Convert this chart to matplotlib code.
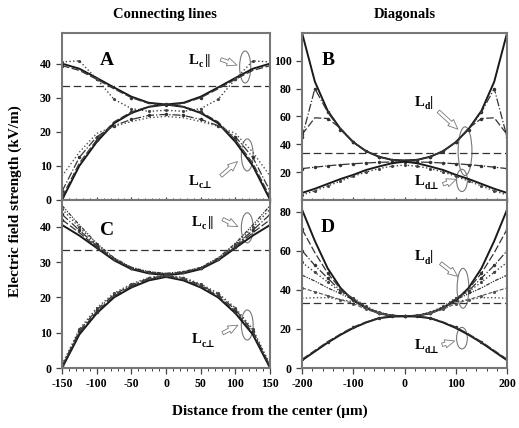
import numpy as np
import matplotlib.pyplot as plt
from matplotlib.patches import Ellipse
from matplotlib.ticker import MultipleLocator

plt.rcParams['font.family'] = ['Liberation Serif', 'DejaVu Serif']
plt.rcParams['font.weight'] = 'bold'
plt.rcParams['mathtext.fontset'] = 'stix'

# ---- data ----
# connecting lines (A, C): distance in um
xc = [-150, -125, -100, -75, -50, -25, 0, 25, 50, 75, 100, 125, 150]
# diagonals (B, D)
xd = [-200, -175, -150, -125, -100, -75, -50, -25, 0, 25, 50, 75, 100, 125, 150, 175, 200]

# panel A
a_par_solid = [40, 38.5, 35.8, 33, 30.3, 28.5, 28, 28.5, 30.3, 33, 35.8, 38.5, 40]
a_par_dash = [39.4, 38, 35.4, 32.6, 30, 28.3, 27.8, 28.3, 30, 32.6, 35.4, 38, 39.4]
a_par_dot = [40.5, 40.8, 35.5, 29.5, 26.8, 26, 26.3, 26, 26.8, 29.5, 35.5, 40.8, 40.5]
a_perp_solid = [0, 10, 17, 22.5, 25.5, 27.3, 28, 27.3, 25.5, 22.5, 17, 10, 0]
a_perp_dash = [0.8, 10.8, 17.6, 22.9, 25.8, 27.4, 28, 27.4, 25.8, 22.9, 17.6, 10.8, 0.8]
a_perp_dashdot = [2.5, 12.5, 18.5, 21.8, 23.6, 24.8, 25.1, 24.8, 23.6, 21.8, 18.5, 12.5, 2.5]
a_perp_dot = [7, 14, 19.5, 21.6, 23, 24.1, 24.5, 24.1, 23, 21.6, 19.5, 14, 7]

# panel B
b_par_solid = [120, 85, 64, 51, 41.5, 35, 31, 28.8, 28.3, 28.8, 31, 35, 41.5, 51, 64, 85, 120]
b_par_dashdot = [45, 80, 63, 50.5, 41.5, 35, 31, 28.8, 28.3, 28.8, 31, 35, 41.5, 50.5, 63, 80, 45]
b_par_dash = [47, 59, 58.5, 51.5, 41.5, 35, 31, 28.8, 28.3, 28.8, 31, 35, 41.5, 51.5, 58.5, 59, 47]
b_perp_dashdot = [22.5, 23.5, 24.5, 25.3, 26, 26.5, 27, 27.2, 27.3, 27.2, 27, 26.5, 26, 25.3, 24.5, 23.5, 22.5]
b_perp_solid = [5, 8, 11.5, 15, 18, 21.5, 24, 26.3, 27.5, 26.3, 24, 21.5, 18, 15, 11.5, 8, 5]
b_perp_dot = [3.5, 6.5, 10, 13.5, 17, 20, 22.5, 24.2, 25, 24.2, 22.5, 20, 17, 13.5, 10, 6.5, 3.5]

# panel C
c_par = [
    [40.5, 37.5, 34, 30.5, 28, 26.8, 26.3, 26.8, 28, 30.5, 34, 37.5, 40.5],
    [42, 38.3, 34.3, 30.7, 28.2, 27, 26.5, 27, 28.2, 30.7, 34.3, 38.3, 42],
    [43.5, 39, 34.6, 30.9, 28.3, 27.1, 26.6, 27.1, 28.3, 30.9, 34.6, 39, 43.5],
    [45, 39.8, 35, 31, 28.4, 27.2, 26.7, 27.2, 28.4, 31, 35, 39.8, 45],
    [46, 40.5, 35.3, 31.2, 28.5, 27.3, 26.8, 27.3, 28.5, 31.2, 35.3, 40.5, 46],
]
c_perp = [
    [0, 9.5, 15.5, 20, 22.8, 24.8, 25.8, 24.8, 22.8, 20, 15.5, 9.5, 0],
    [0.3, 10, 16, 20.4, 23.2, 25.1, 26, 25.1, 23.2, 20.4, 16, 10, 0.3],
    [0.6, 10.5, 16.5, 20.8, 23.5, 25.4, 26.2, 25.4, 23.5, 20.8, 16.5, 10.5, 0.6],
    [1, 11, 17, 21.2, 23.8, 25.6, 26.4, 25.6, 23.8, 21.2, 17, 11, 1],
]

# panel D
d_par = [
    [81, 65, 51, 41, 34.5, 30.7, 28, 26.8, 26.5, 26.8, 28, 30.7, 34.5, 41, 51, 65, 81],
    [71, 59, 48.5, 40.5, 35, 30.5, 28, 26.8, 26.5, 26.8, 28, 30.5, 35, 40.5, 48.5, 59, 71],
    [60, 52.5, 46, 39.5, 35.5, 31, 28, 26.8, 26.5, 26.8, 28, 31, 35.5, 39.5, 46, 52.5, 60],
    [54, 49, 44, 39, 36, 31.5, 28.5, 27, 26.5, 27, 28.5, 31.5, 36, 39, 44, 49, 54],
    [47.5, 44.5, 41, 38, 35, 31, 28.5, 27, 26.5, 27, 28.5, 31, 35, 38, 41, 44.5, 47.5],
    [41, 39, 37, 35, 33, 30, 28, 26.8, 26.5, 26.8, 28, 30, 33, 35, 37, 39, 41],
    [35.7, 36, 36, 35, 34, 31, 28, 26.8, 26.5, 26.8, 28, 31, 34, 35, 36, 36, 35.7],
]
d_perp = [
    [4, 8.5, 13, 17, 20.5, 23.3, 25.5, 26.3, 26.5, 26.3, 25.5, 23.3, 20.5, 17, 13, 8.5, 4],
    [4.5, 9, 13.5, 17.4, 21, 23.6, 25.7, 26.5, 26.7, 26.5, 25.7, 23.6, 21, 17.4, 13.5, 9, 4.5],
]

threshold = 33.5

styles = [
    dict(ls='-', lw=1.4, color='#1a1a1a'),
    dict(ls=(0, (6, 2)), lw=0.9, color='#333333', marker='.', ms=3, markevery=2),
    dict(ls='-.', lw=0.9, color='#333333', marker='.', ms=3),
    dict(ls=':', lw=1.0, color='#444444', marker='.', ms=2.5),
    dict(ls=(0, (3, 1, 1, 1, 1, 1)), lw=0.9, color='#333333'),
    dict(ls='--', lw=0.8, color='#555555', marker='.', ms=2.5),
    dict(ls=':', lw=1.0, color='#555555'),
]

fig = plt.figure(figsize=(5.19, 4.28), dpi=100)
axA = fig.add_axes([0.1195, 0.533, 0.401, 0.390])
axC = fig.add_axes([0.1195, 0.140, 0.401, 0.393])
axB = fig.add_axes([0.582, 0.533, 0.395, 0.390])
axD = fig.add_axes([0.582, 0.140, 0.395, 0.393])

# A
axA.plot(xc, a_par_solid, **styles[0])
axA.plot(xc, a_par_dash, **styles[1])
axA.plot(xc, a_par_dot, **styles[3])
axA.plot(xc, a_perp_solid, **styles[0])
axA.plot(xc, a_perp_dash, **styles[1])
axA.plot(xc, a_perp_dashdot, **styles[2])
axA.plot(xc, a_perp_dot, **styles[6])

# B
axB.plot(xd, b_par_solid, **styles[0])
axB.plot(xd, b_par_dashdot, **styles[2])
axB.plot(xd, b_par_dash, **styles[1])
axB.plot(xd, b_perp_dashdot, **styles[2])
axB.plot(xd, b_perp_solid, **styles[0])
axB.plot(xd, b_perp_dot, **styles[3])

# C
for i, ys in enumerate(c_par):
    axC.plot(xc, ys, **styles[i % len(styles)])
for i, ys in enumerate(c_perp):
    axC.plot(xc, ys, **styles[i % len(styles)])

# D
for i, ys in enumerate(d_par):
    axD.plot(xd, ys, **styles[i % len(styles)])
for i, ys in enumerate(d_perp):
    axD.plot(xd, ys, **styles[i])

for ax in (axA, axB, axC, axD):
    ax.axhline(threshold, ls=(0, (6, 3)), lw=0.9, color='#333333')
    for s in ax.spines.values():
        s.set_color('#777777')
        s.set_linewidth(1.5)
    ax.tick_params(labelsize=8.5, width=0.9, length=4, color='#444444')
    ax.tick_params(which='minor', length=2.5, width=0.7, color='#444444')

axA.set_xlim(-150, 150)
axC.set_xlim(-150, 150)
axB.set_xlim(-200, 200)
axD.set_xlim(-200, 200)
axA.set_ylim(0, 49)
axC.set_ylim(0, 47.6)
axB.set_ylim(0, 120)
axD.set_ylim(0, 86)

for ax in (axA, axC):
    ax.xaxis.set_major_locator(MultipleLocator(50))
    ax.xaxis.set_minor_locator(MultipleLocator(10))
    ax.set_yticks([0, 10, 20, 30, 40])
for ax in (axB, axD):
    ax.xaxis.set_major_locator(MultipleLocator(100))
    ax.xaxis.set_minor_locator(MultipleLocator(20))
axB.set_yticks([20, 40, 60, 80, 100])
axD.set_yticks([0, 20, 40, 60, 80])
axA.tick_params(axis='x', which='both', labelbottom=False, direction='inout')
axB.tick_params(axis='x', which='both', labelbottom=False, direction='inout')
axC.set_xticks([-150, -100, -50, 0, 50, 100, 150])
axC.set_xticklabels(['-150', '-100', '-50', '0', '50', '100', '150'])
axD.set_xticks([-200, -100, 0, 100, 200])
axD.set_xticklabels(['-200', '-100', '0', '100', '200'])

# panel letters
for ax, letter, x, y in [(axA, 'A', -85, 41), (axB, 'B', -150, 100), (axC, 'C', -85, 39), (axD, 'D', -150, 72)]:
    ax.text(x, y, letter, fontsize=14, fontweight='bold', ha='center', va='center')

# ellipses, arrows and labels
ell_kw = dict(fill=False, ec='#777777', lw=0.8)
arr_kw = dict(arrowstyle='simple,head_length=0.7,head_width=0.6,tail_width=0.25',
              fc='white', ec='#777777', lw=0.6)


def mark(ax, sub, tail, lx, ly, ax0, ay0, ax1, ay1, ex, ey, ew, eh):
    ax.add_patch(Ellipse((ex, ey), ew, eh, **ell_kw))
    ax.annotate('', xy=(ax1, ay1), xytext=(ax0, ay0), arrowprops=arr_kw)
    # "L" + subscript (+ "||" for the parallel case)
    ax.annotate('L', (lx, ly), ha='right', va='center', fontsize=10.5, fontweight='bold')
    ax.annotate(sub, (lx, ly), xytext=(0.3, -3.2), textcoords='offset points',
                ha='left', va='center', fontsize=7, fontweight='bold',
                family=['Liberation Serif', 'DejaVu Serif'])
    if tail:
        ax.annotate(tail, (lx, ly), xytext=(4.5, 0), textcoords='offset points',
                    ha='left', va='center', fontsize=10.5, fontweight='bold')


mark(axA, 'c', '||', 47, 41, 75, 41.5, 106, 39.3, 114, 39, 16, 9.4)
mark(axA, 'c\u22a5', '', 47, 5.5, 76, 6.5, 106, 11.8, 117, 13.2, 17, 9.4)
mark(axC, 'c', '||', 51, 41.2, 78, 42.5, 107, 39.7, 117, 39.7, 17, 8.5)
mark(axC, 'c\u22a5', '', 51, 8, 78, 9.5, 107, 12.5, 117, 12.2, 17, 8.5)
mark(axB, 'd', '|', 38, 70, 62, 65, 108, 49.5, 118, 35, 27, 35)
mark(axB, 'd\u22a5', '', 38, 13, 70, 10.5, 106, 15.5, 112, 14, 21, 16)
mark(axD, 'd', '|', 38, 57, 66, 54.5, 108, 46, 114, 40.8, 23, 20.4)
mark(axD, 'd\u22a5', '', 38, 11.5, 68, 11.5, 103, 14.3, 112, 15.3, 21, 11)

fig.text(0.318, 0.965, 'Connecting lines', fontsize=10.5, fontweight='bold', ha='center', va='center')
fig.text(0.78, 0.965, 'Diagonals', fontsize=10.5, fontweight='bold', ha='center', va='center')
fig.text(0.03, 0.53, 'Electric field strength (kV/m)', fontsize=11, fontweight='bold',
         rotation=90, ha='center', va='center')
fig.text(0.52, 0.04, 'Distance from the center (\u03bcm)', fontsize=11, fontweight='bold',
         ha='center', va='center')

plt.savefig('out.png', dpi=100)
